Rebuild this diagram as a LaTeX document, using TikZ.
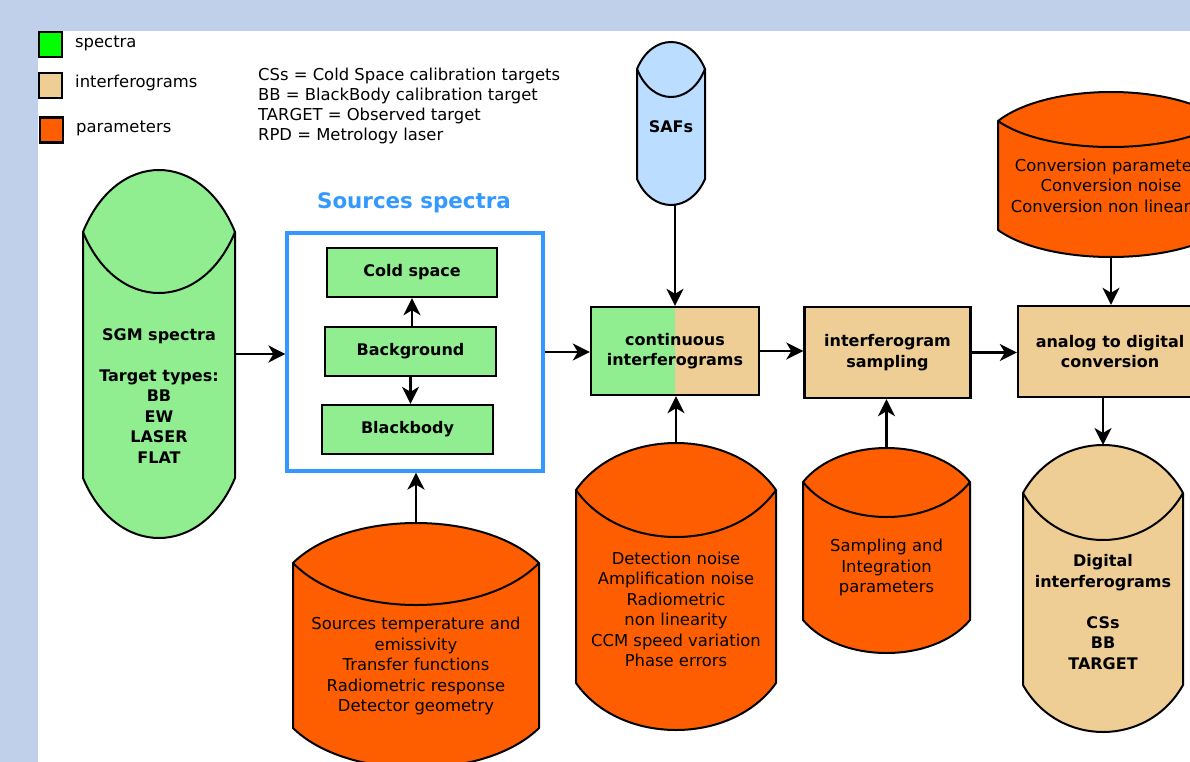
\documentclass[tikz,border=0pt]{standalone}
\usepackage{fontspec}
\setmainfont{DejaVu Sans}
\usetikzlibrary{arrows.meta,calc}
\definecolor{bandblue}{RGB}{193,208,234}
\definecolor{spgreen}{RGB}{144,238,144}
\definecolor{leggreen}{RGB}{0,255,0}
\definecolor{igtan}{RGB}{238,206,148}
\definecolor{parorange}{RGB}{255,94,0}
\definecolor{safblue}{RGB}{187,221,255}
\definecolor{srcblue}{RGB}{51,153,255}
\newcommand\drumshape[9]{%
 \pgfmathsetmacro\cylW{#4-#3}%
 \pgfmathsetmacro\cylH{#9-#5}%
 \pgfmathsetmacro\cylXm{(#3+#4)/2}%
 \pgfmathsetmacro\cylYm{(#5+#9)/2}%
 \pgfmathsetmacro\cylXa{#3+0.22*\cylW}%
 \pgfmathsetmacro\cylXb{#4-0.22*\cylW}%
 \pgfmathsetmacro\cylCt{#6-(#6-#5)*4/3}%
 \pgfmathsetmacro\cylCi{#6+(#7-#6)*4/3}%
 \pgfmathsetmacro\cylCb{#8+(#9-#8)*4/3}%
 \draw[drumline,fill=#2] (#3,#6) .. controls (\cylXa,\cylCt) and (\cylXb,\cylCt) .. (#4,#6) -- (#4,#8) .. controls (\cylXb,\cylCb) and (\cylXa,\cylCb) .. (#3,#8) -- cycle;
 \draw[drumline] (#3,#6) .. controls (\cylXa,\cylCi) and (\cylXb,\cylCi) .. (#4,#6);
 \node[drumframe,minimum width=\cylW pt,minimum height=\cylH pt] (#1) at (\cylXm,\cylYm) {};
}
\begin{document}
\begin{tikzpicture}[x=1pt,y=-1pt,
  every node/.style={font=\fontsize{16.4}{20.5}\selectfont},
  drumline/.style={line width=2pt,line join=round},
  drumframe/.style={inner sep=0pt,outer sep=0pt},
  box/.style={draw,line width=2.4pt,inner sep=2pt,align=center,font=\fontsize{16}{20.5}\selectfont\bfseries},
  greenbox/.style={box,fill=spgreen},
  tanbox/.style={box,fill=igtan},
  legsq/.style={draw,line width=2.4pt,minimum width=23pt,minimum height=25pt,inner sep=0pt},
  legtxt/.style={anchor=west,inner sep=0pt},
  btext/.style={align=center,inner sep=0pt,font=\fontsize{16}{20.5}\selectfont\bfseries},
  rtext/.style={align=center,inner sep=0pt,font=\fontsize{16.4}{20.5}\selectfont},
  arr/.style={line width=2.4pt,-{Stealth[length=17pt,width=17pt,inset=5pt]}}]
\path[use as bounding box] (0,0) rectangle (1190,762);
\clip (0,0) rectangle (1190,762);
\fill[bandblue] (0,0) rectangle (1190,762);
\fill[white] (38,31) rectangle (1200,770);

% legend
\node[legsq,fill=leggreen] (lg1) at (50.5,44.5) {};
\node[legsq,fill=igtan] (lg2) at (50.5,85.5) {};
\node[legsq,fill=parorange] (lg3) at (51.5,130) {};
\node[legtxt] (lt1) at (75,43) {spectra};
\node[legtxt] (lt2) at (75,83) {interferograms};
\node[legtxt] (lt3) at (76,128) {parameters};
\node[anchor=west,align=left,inner sep=0pt,font=\fontsize{16.4}{20}\selectfont] (abbr) at (258,106)
 {CSs = Cold Space calibration targets\\BB = BlackBody calibration target\\TARGET = Observed target\\RPD = Metrology laser};

% cylinders
\drumshape{sgm}{spgreen}{83}{235}{170}{232}{293}{478}{538}
\node[btext] (sgmt) at (159,396) {SGM spectra\\[20.5pt]Target types:\\BB\\EW\\LASER\\FLAT};
\drumshape{safs}{safblue}{637}{705}{42}{69}{97}{179}{205}
\node[btext] (safst) at (671,127) {SAFs};
\drumshape{conv}{parorange}{998}{1224}{92}{121}{147}{230}{257}
\node[rtext] (convt) at (1111,187) {Conversion parameters\\Conversion noise\\Conversion non linearity};
\drumshape{scyl}{parorange}{293}{539}{523}{563}{605}{728}{768}
\node[rtext] (scylt) at (416,666) {Sources temperature and\\emissivity\\Transfer functions\\Radiometric response\\Detector geometry};
\drumshape{det}{parorange}{576}{776}{443}{490}{537}{683}{730}
\node[rtext] (dett) at (676,609.5) {Detection noise\\Amplification noise\\Radiometric\\non linearity\\CCM speed variation\\Phase errors};
\drumshape{spar}{parorange}{803}{970}{448}{482}{517}{620}{653}
\node[rtext] (spart) at (886.5,567.5) {Sampling and\\Integration\\parameters};
\drumshape{dig}{igtan}{1023}{1183}{445}{493}{540}{685}{732}
\node[btext] (digt) at (1103,612) {Digital\\interferograms\\[20.5pt]CSs\\BB\\TARGET};

% sources spectra block
\node[draw=srcblue,line width=3.2pt,minimum width=256pt,minimum height=238pt,inner sep=0pt] (src) at (415,352) {};
\node[font=\fontsize{21.4}{24}\selectfont\bfseries,text=srcblue,inner sep=0pt] (srctitle) at (414,203) {Sources spectra};
\node[greenbox,minimum width=170pt,minimum height=49pt] (cold) at (412,272.5) {Cold space};
\node[greenbox,minimum width=171pt,minimum height=49pt] (bg) at (410.5,351.5) {Background};
\node[greenbox,minimum width=171pt,minimum height=49pt] (bb) at (407.5,429.5) {Blackbody};

% processing boxes
\node[box,minimum width=168pt,minimum height=88pt,
  path picture={\fill[spgreen] (path picture bounding box.south west) rectangle (path picture bounding box.north);
                \fill[igtan] (path picture bounding box.south) rectangle (path picture bounding box.north east);}]
  (cont) at (675,351) {continuous\\interferograms};
\node[tanbox,minimum width=166pt,minimum height=91pt] (samp) at (887.5,352.5) {interferogram\\sampling};
\node[tanbox,minimum width=184pt,minimum height=91pt] (adc) at (1110,351.5) {analog to digital\\conversion};

% connectors
\draw[arr] (sgm.east) -- (sgm.east -| src.west);
\draw[arr] (src.east) -- (src.east -| cont.west);
\draw[arr] (cont.east) -- (cont.east -| samp.west);
\draw[arr] (samp.east) -- (samp.east -| adc.west);
\draw[arr] (cold.south |- bg.north) -- (cold.south);
\draw[arr] (bg.south) -- (bg.south |- bb.north);
\draw[arr] (scyl.north) -- (scyl.north |- src.south);
\draw[arr] (cont.north |- safs.south) -- (cont.north);
\draw[arr] (det.north) -- (det.north |- cont.south);
\draw[arr] (spar.north) -- (spar.north |- samp.south);
\draw[arr] (conv.south) -- (conv.south |- adc.north);
\draw[arr] (dig.north |- adc.south) -- (dig.north);
\end{tikzpicture}
\end{document}
